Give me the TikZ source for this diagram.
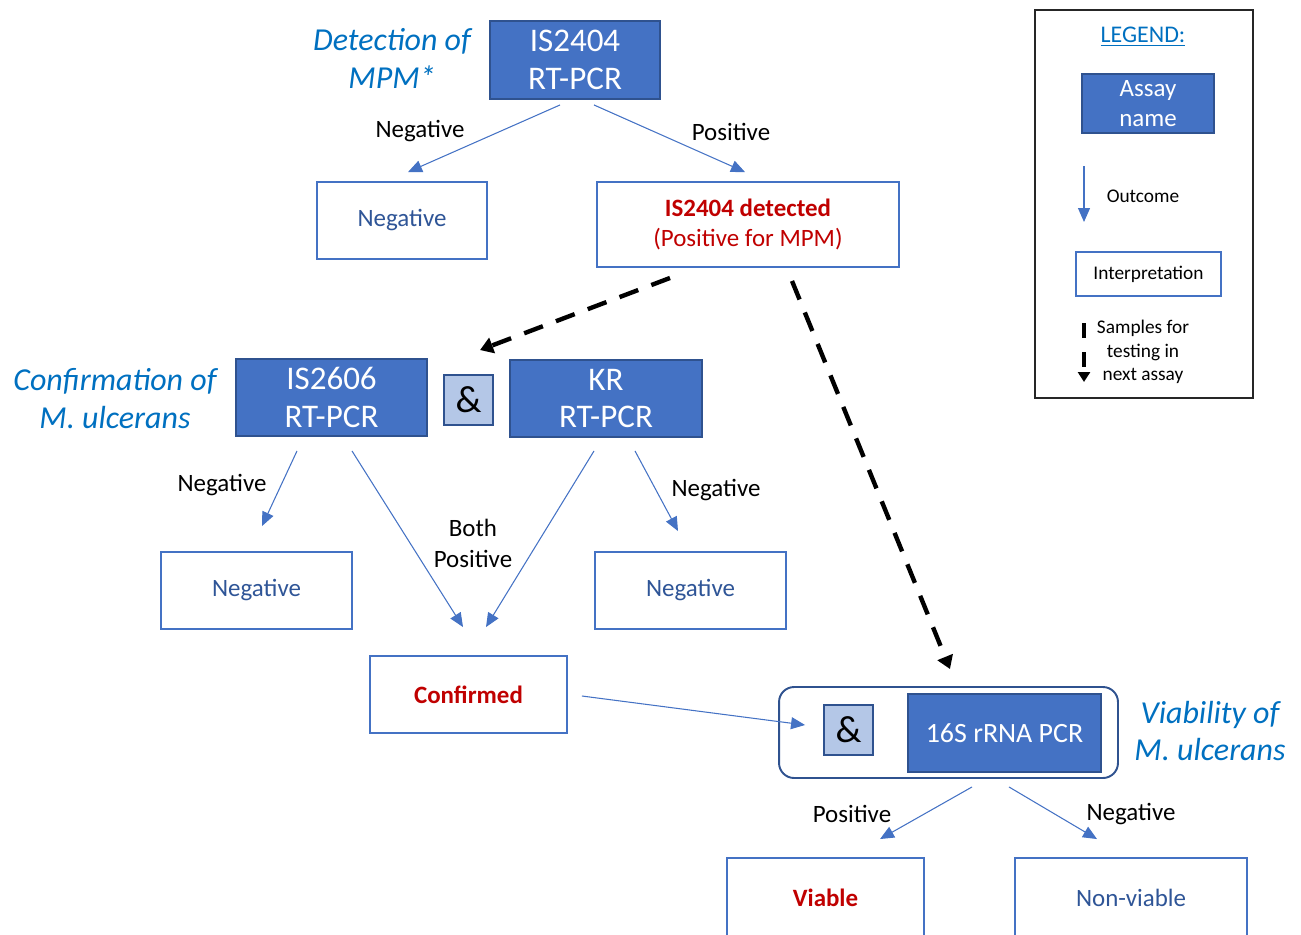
\documentclass[tikz,border=0pt]{standalone}
\usepackage{fontspec}
\setmainfont{Carlito}
\definecolor{assay}{HTML}{4472C4}
\definecolor{assaydark}{HTML}{2F528F}
\definecolor{andfill}{HTML}{B4C7E7}
\definecolor{titleblue}{HTML}{0070C0}
\definecolor{interptext}{HTML}{2F5597}
\definecolor{posred}{HTML}{C00000}
\usetikzlibrary{arrows.meta}
\newcommand{\pxfont}[2]{\fontsize{#1}{#2}\selectfont}
\tikzset{
  assaybox/.style={draw=assaydark, fill=assay, line width=1.1pt, text=white, align=center, inner sep=0pt, font=\pxfont{18.8}{21.6}},
  interpbox/.style={draw=assay, line width=1.1pt, fill=white, text=interptext, align=center, inner sep=0pt, font=\pxfont{14.2}{17.6}},
  andbox/.style={draw=assaydark, fill=andfill, line width=1.1pt, minimum width=0.98cm, minimum height=1cm, inner sep=0pt, font=\pxfont{21.6}{24}},
  outarrow/.style={draw=assay, line width=0.6pt, -{Triangle[length=0.28cm,width=0.24cm]}},
  samplearrow/.style={draw=black, line width=2.5pt, dash pattern=on 0.4cm off 0.28cm, -{Triangle[length=0.26cm,width=0.32cm]}},
  outlabel/.style={align=center, inner sep=0pt, font=\pxfont{14.2}{17.6}},
  stagetitle/.style={text=titleblue, align=center, inner sep=0pt, font=\itshape\pxfont{18.2}{21.6}},
  legendtext/.style={align=center, inner sep=0pt, font=\pxfont{11}{13.5}}
}

\begin{document}
\begin{tikzpicture}[x=0.02cm, y=-0.02cm]
  \useasboundingbox (0,0) rectangle (1301,934);

  % Detection of MPM
  \node[stagetitle] (dettitle) at (392,58) {Detection of\\MPM*};
  \node[assaybox, minimum width=3.4cm, minimum height=1.56cm] (is2404) at (575,60) {IS2404\\RT-PCR};
  \node[interpbox, minimum width=3.4cm, minimum height=1.54cm] (neg1) at (402,220.5) {Negative};
  \node[interpbox, text=posred, minimum width=6.04cm, minimum height=1.7cm] (mpm) at (748,224.5) {\textbf{IS2404 detected}\\(Positive for MPM)};
  \draw[outarrow] ([shift={(-15,5)}]is2404.south) -- ([shift={(6,-9)}]neg1.north);
  \draw[outarrow] ([shift={(19,5)}]is2404.south) -- ([shift={(-3,-9)}]mpm.north);
  \node[outlabel] (negl1) at (420,131) {Negative};
  \node[outlabel] (posl1) at (731,132) {Positive};

  % Confirmation of M. ulcerans
  \node[stagetitle] (conftitle) at (115,399) {Confirmation of\\M. ulcerans};
  \node[assaybox, minimum width=3.82cm, minimum height=1.54cm] (is2606) at (331.5,397.5) {IS2606\\RT-PCR};
  \node[andbox] (and1) at (468.5,400) {\&};
  \node[assaybox, minimum width=3.84cm, minimum height=1.54cm] (kr) at (606,398.5) {KR\\RT-PCR};
  \node[interpbox, minimum width=3.82cm, minimum height=1.54cm] (neg2) at (256.5,590.5) {Negative};
  \node[interpbox, minimum width=3.82cm, minimum height=1.54cm] (neg3) at (690.5,590.5) {Negative};
  \node[interpbox, text=posred, minimum width=3.94cm, minimum height=1.54cm] (conf) at (468.5,694.5) {\textbf{Confirmed}};
  \draw[outarrow] ([shift={(-34.5,14)}]is2606.south) -- ([shift={(5.5,-25)}]neg2.north);
  \draw[outarrow] ([shift={(20.5,14)}]is2606.south) -- ([shift={(-5.5,-28)}]conf.north);
  \draw[outarrow] ([shift={(-12,13)}]kr.south) -- ([shift={(17.5,-28)}]conf.north);
  \draw[outarrow] ([shift={(29,13)}]kr.south) -- ([shift={(-12.5,-20)}]neg3.north);
  \node[outlabel] (negl2) at (222,485) {Negative};
  \node[outlabel] (bothl) at (473,543) {Both\\Positive};
  \node[outlabel] (negl3) at (716,490) {Negative};

  % Viability of M. ulcerans
  \node[draw=assaydark, line width=1.1pt, rounded corners=0.3cm, minimum width=6.78cm, minimum height=1.82cm] (viabox) at (948.5,732.5) {};
  \node[andbox] (and2) at (848.5,730) {\&};
  \node[assaybox, minimum width=3.86cm, minimum height=1.56cm, font=\pxfont{15.9}{18}] (rrna) at (1004.5,733) {16S rRNA PCR};
  \node[stagetitle] (viatitle) at (1210,731) {Viability of\\M. ulcerans};
  \node[interpbox, text=posred, minimum width=3.94cm, minimum height=1.58cm] (viable) at (825.5,897.5) {\textbf{Viable}};
  \node[interpbox, minimum width=4.64cm, minimum height=1.58cm] (nonviable) at (1131,897.5) {Non-viable};
  \draw[outarrow] ([shift={(14,1.5)}]conf.east) -- ([shift={(-18,-5)}]and2.west);
  \draw[outarrow] ([shift={(23.5,8)}]viabox.south) -- ([shift={(54.5,-18)}]viable.north);
  \draw[outarrow] ([shift={(60.5,8)}]viabox.south) -- ([shift={(-34,-18)}]nonviable.north);
  \node[outlabel] (posl2) at (852,814) {Positive};
  \node[outlabel] (negl4) at (1131,814) {Negative};

  % Samples passed on
  \draw[samplearrow] ([shift={(-78,10)}]mpm.south) -- ([shift={(11.5,-24)}]and1.north);
  \draw[samplearrow] ([shift={(44,13)}]mpm.south) -- ([shift={(1.5,-17)}]viabox.north);

  % Legend
  \node[draw=black!85, line width=0.8pt, minimum width=4.36cm, minimum height=7.76cm, inner sep=0pt] (legend) at (1144,204) {};
  \node[text=titleblue, inner sep=0pt, font=\pxfont{13.6}{15}] (legendtitle) at (1143,37) {\underline{LEGEND:}};
  \node[assaybox, minimum width=2.64cm, minimum height=1.18cm, font=\pxfont{14.2}{17}] (assaykey) at (1148,103.5) {Assay\\name};
  \coordinate (outtop) at (1084,166);
  \coordinate (outbot) at (1084,222);
  \draw[outarrow] (outtop) -- (outbot);
  \node[legendtext] (outkey) at (1143,196) {Outcome};
  \node[interpbox, text=black, minimum width=2.9cm, minimum height=0.88cm, font=\pxfont{11}{13.5}] (interpkey) at (1148.5,274) {Interpretation};
  \coordinate (samptop) at (1084,323);
  \coordinate (sampbot) at (1084,382);
  \draw[draw=black, line width=1.9pt, dash pattern=on 0.3cm off 0.28cm, -{Triangle[length=0.2cm,width=0.24cm]}] (samptop) -- (sampbot);
  \node[legendtext] (sampkey) at (1143,352) {Samples for\\testing in\\next assay};
\end{tikzpicture}
\end{document}
